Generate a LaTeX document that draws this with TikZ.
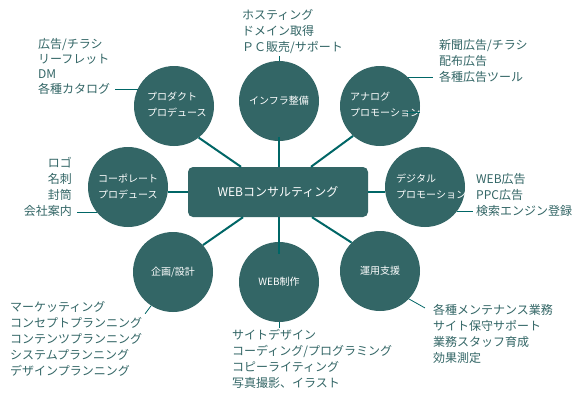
\documentclass[tikz,border=0pt]{standalone}
\usepackage{fontspec}
\setmainfont{Noto Sans CJK JP}
\definecolor{circ}{HTML}{336666}
\definecolor{conn}{HTML}{006666}
\definecolor{lblc}{HTML}{336666}
\begin{document}
\begin{tikzpicture}[x=1pt,y=-1pt,
  bubble/.style={circle,fill=circ,minimum size=80pt,inner sep=0pt,text=white,font=\fontsize{10}{16}\selectfont},
  intext/.style={text=white,font=\fontsize{10}{16}\selectfont,align=left,inner sep=0pt},
  labeltext/.style={text=lblc,font=\fontsize{12}{16}\selectfont,align=left,inner sep=0pt},
  conline/.style={draw=conn,line width=2pt},
  tick/.style={draw=conn,line width=1pt}]
\useasboundingbox (0,0) rectangle (580,400);
\fill[white] (0,0) rectangle (580,400);

% central box
\node[fill=circ,rounded corners=5pt,minimum width=180pt,minimum height=50pt,inner sep=0pt,
      text=white,font=\fontsize{12}{14}\selectfont] (box) at (278,192) {WEBコンサルティング};

% bubbles
\node[bubble] (prod) at (174,106) {};
\node[bubble] (infra) at (279,101) {インフラ整備};
\node[bubble] (anal) at (380,106) {};
\node[bubble] (dig) at (425,187) {};
\node[bubble] (corp) at (128,187) {};
\node[bubble] (plan) at (173,272) {企画/設計};
\node[bubble] (webc) at (279,282) {WEB制作};
\node[bubble] (ops) at (380,271) {運用支援};

% texts inside bubbles
\node[intext,anchor=west] (prodt) at (147,105) {プロダクト\\プロデュース};
\node[intext,anchor=west] (analt) at (350,105) {アナログ\\プロモーション};
\node[intext,anchor=west] (digt) at (396,187) {デジタル\\プロモーション};
\node[intext,anchor=west] (corpt) at (98,187) {コーポレート\\プロデュース};

% outer labels
\node[labeltext,anchor=west,font=\fontsize{12}{15}\selectfont] (prodl) at (38,66.5) {広告/チラシ\\リーフレット\\DM\\各種カタログ};
\node[labeltext,anchor=west] (infral) at (242,32) {ホスティング\\ドメイン取得\\ＰＣ販売/サポート};
\node[labeltext,anchor=west] (anall) at (439,61) {新聞広告/チラシ\\配布広告\\各種広告ツール};
\node[labeltext,anchor=west] (digl) at (476,195) {WEB広告\\PPC広告\\検索エンジン登録};
\node[labeltext,anchor=east,align=right] (corpl) at (72,187) {ロゴ\\名刺\\封筒\\会社案内};
\node[labeltext,anchor=west] (planl) at (10,339) {マーケッティング\\コンセプトプランニング\\コンテンツプランニング\\システムプランニング\\デザインプランニング};
\node[labeltext,anchor=west] (webl) at (232,359) {サイトデザイン\\コーディング/プログラミング\\コピーライティング\\写真撮影、イラスト};
\node[labeltext,anchor=west] (opsl) at (433,334) {各種メンテナンス業務\\サイト保守サポート\\業務スタッフ育成\\効果測定};

% connectors box - bubbles
\draw[conline] ([xshift=-37pt]box.north) -- (prod.-52);
\draw[conline] ([xshift=1pt]box.north) -- ([yshift=4pt]infra.south);
\draw[conline] ([xshift=33pt]box.north) -- (anal.-132);
\draw[conline] (box.east) -- (box.east -| dig.west);
\draw[conline] (box.west) -- (box.west -| corp.east);
\draw[conline] ([xshift=-35pt]box.south) -- (plan.42);
\draw[conline] ([xshift=1pt]box.south) -- ([yshift=-12pt]webc.north);
\draw[conline] ([xshift=34pt]box.south) -- (ops.135);

% label ticks
\draw[tick] (prod.155) -- ([xshift=5pt]prodl.east |- prod.155);
\draw[tick] (infra.north) -- ([yshift=5pt]infra.north);
\draw[tick] (anal.46.5) -- ([xshift=-6pt]anall.west |- anal.46.5);
\draw[tick] (anal.-10) -- ++(-14,0);
\draw[tick] (dig.-37) -- ([xshift=-3pt]digl.west |- dig.-37);
\draw[tick] (corp.-140) -- ([xshift=5pt]corpl.east |- corp.-140);
\draw[tick,line width=0.8pt] (plan.-123) -- ++(-6,8);
\draw[tick] (webc.south) -- ([yshift=-6pt]webc.south);
\draw[tick,line width=0.8pt] (ops.-44) -- ++(16,9);
\end{tikzpicture}
\end{document}
